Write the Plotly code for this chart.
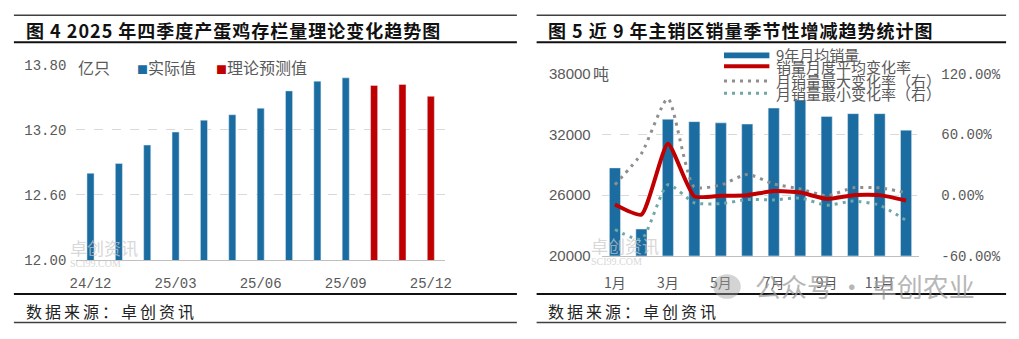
import plotly.graph_objects as go

# ---------------- data: left chart ----------------
left_months = ['24/12', '25/01', '25/02', '25/03', '25/04', '25/05', '25/06',
               '25/07', '25/08', '25/09', '25/10', '25/11', '25/12']
actual_stock = [12.80, 12.89, 13.06, 13.18, 13.29, 13.34, 13.40,
                13.56, 13.65, 13.68, None, None, None]
forecast_stock = [None, None, None, None, None, None, None,
                  None, None, None, 13.61, 13.62, 13.51]
left_xticks = ['24/12', '25/03', '25/06', '25/09', '25/12']
left_yticks = [12.00, 12.60, 13.20, 13.80]
left_yticktext = ['12.00', '12.60', '13.20', '13.80']

# ---------------- data: right chart ----------------
right_months = ['1月', '2月', '3月', '4月', '5月', '6月',
                '7月', '8月', '9月', '10月', '11月', '12月']
avg_sales = [28690, 22650, 33500, 33260, 33140, 33020,
             34600, 35400, 33770, 34050, 34050, 32420]
avg_rate = [-9.3, -19.3, 50.8, -1.2, -0.6, 0.0, 4.0, 2.5, -3.7, 0.0, 0.0, -5.3]
max_rate = [10.3, 41.0, 95.3, 8.1, 10.0, 20.5, 11.0, 6.2, -0.6, 7.2, 7.2, 2.5]
min_rate = [-34.0, -43.5, 10.3, -7.5, -8.4, -4.4, -4.7, -2.8, -10.0, -5.9, -10.0, -25.0]
right_xticks = ['1月', '3月', '5月', '7月', '9月', '11月']
right_yticks = [20000, 26000, 32000, 38000]
right_yticktext = ['20000', '26000', '32000', '38000']
right_y2ticks = [-60, 0, 60, 120]
right_y2ticktext = ['-60.00%', '0.00%', '60.00%', '120.00%']

# ---------------- styles ----------------
W, H = 1019, 339
BLUE = '#1B6CA0'
RED = '#C00000'
GRAY_DOT = '#8E8E8E'
TEAL_DOT = '#6FA6A8'
TXT = '#595959'
CJK = 'Noto Sans CJK SC'
MONO = 'Liberation Mono'


def px(x):
    return x / W


def py(y):
    return 1 - y / H


fig = go.Figure()

# left chart bars
fig.add_trace(go.Bar(x=left_months, y=actual_stock, name='实际值', marker_color=BLUE,
                     width=0.25, xaxis='x', yaxis='y', showlegend=False))
fig.add_trace(go.Bar(x=left_months, y=forecast_stock, name='理论预测值', marker_color=RED,
                     width=0.25, xaxis='x', yaxis='y', showlegend=False))

# right chart
fig.add_trace(go.Bar(x=right_months, y=avg_sales, name='9年月均销量', marker_color=BLUE,
                     width=0.42, xaxis='x2', yaxis='y2', showlegend=False))
fig.add_trace(go.Scatter(x=right_months, y=max_rate, name='月销量最大变化率（右）', mode='lines',
                         line=dict(color=GRAY_DOT, width=3, dash='3px,5px', shape='spline', smoothing=0.6),
                         xaxis='x2', yaxis='y3', showlegend=False))
fig.add_trace(go.Scatter(x=right_months, y=min_rate, name='月销量最小变化率（右）', mode='lines',
                         line=dict(color=TEAL_DOT, width=3, dash='3px,5px', shape='spline', smoothing=0.6),
                         xaxis='x2', yaxis='y3', showlegend=False))
fig.add_trace(go.Scatter(x=right_months, y=avg_rate, name='销量月度平均变化率', mode='lines',
                         line=dict(color=RED, width=4, shape='spline', smoothing=0.5),
                         xaxis='x2', yaxis='y3', showlegend=False))

tickfont_mono = dict(family=MONO, size=14, color=TXT)

fig.update_layout(
    width=W, height=H, autosize=False,
    margin=dict(l=0, r=0, t=0, b=0),
    paper_bgcolor='white', plot_bgcolor='white',
    barmode='overlay',
    xaxis=dict(domain=[px(70.3), px(444.1)], type='category', tickmode='array',
               tickvals=left_xticks, ticktext=left_xticks, tickfont=tickfont_mono,
               showline=True, linecolor='#BFBFBF', linewidth=1, ticks='',
               showgrid=False, zeroline=False, ticklabelstandoff=10, fixedrange=True),
    yaxis=dict(domain=[py(265), py(59)], range=[12.0, 13.8], tickmode='array',
               tickvals=left_yticks, ticktext=left_yticktext, tickfont=tickfont_mono,
               showgrid=True, gridcolor='#D9D9D9', griddash='dash', gridwidth=1,
               showline=False, zeroline=False, ticks='', ticklabelstandoff=9),
    xaxis2=dict(domain=[px(603), px(925)], type='category', tickmode='array',
                tickvals=right_xticks, ticktext=right_xticks,
                tickfont=dict(family=CJK, size=14, color=TXT),
                showline=True, linecolor='#BFBFBF', linewidth=1, ticks='',
                showgrid=False, zeroline=False, ticklabelstandoff=14, anchor='y2'),
    yaxis2=dict(domain=[py(260.7), py(68.3)], range=[20000, 38000], tickmode='array',
                tickvals=right_yticks, ticktext=right_yticktext,
                tickfont=dict(family='Liberation Sans', size=15, color=TXT),
                showgrid=True, gridcolor='#D9D9D9', griddash='dash', gridwidth=1,
                showline=False, zeroline=False, ticks='', ticklabelstandoff=10, anchor='x2'),
    yaxis3=dict(domain=[py(260.7), py(68.3)], range=[-60, 120], tickmode='array',
                tickvals=right_y2ticks, ticktext=right_y2ticktext, tickfont=tickfont_mono,
                overlaying='y2', side='right', anchor='x2', showgrid=False,
                showline=False, zeroline=False, ticks='', ticklabelstandoff=21),
)

shapes = []
# rules
for x0, x1 in [(7, 517), (537, 1013)]:
    shapes.append(dict(type='line', xref='paper', yref='paper', x0=px(x0), x1=px(x1),
                       y0=py(6.5), y1=py(6.5), line=dict(color='#404040', width=1.5)))
    shapes.append(dict(type='line', xref='paper', yref='paper', x0=px(x0), x1=px(x1),
                       y0=py(35), y1=py(35), line=dict(color='#111111', width=2)))
    shapes.append(dict(type='line', xref='paper', yref='paper', x0=px(x0), x1=px(x1),
                       y0=py(301), y1=py(301), line=dict(color='#111111', width=2)))
    shapes.append(dict(type='line', xref='paper', yref='paper', x0=px(x0), x1=px(x1),
                       y0=py(331), y1=py(331), line=dict(color='#404040', width=1.5)))

# right legend swatches
shapes.append(dict(type='rect', xref='paper', yref='paper', x0=px(727), x1=px(773),
                   y0=py(52), y1=py(46), fillcolor=BLUE, line=dict(width=0)))
shapes.append(dict(type='line', xref='paper', yref='paper', x0=px(727), x1=px(773),
                   y0=py(60.5), y1=py(60.5), line=dict(color=RED, width=4)))
shapes.append(dict(type='line', xref='paper', yref='paper', x0=px(727), x1=px(773),
                   y0=py(76), y1=py(76), line=dict(color=GRAY_DOT, width=3, dash='3px,5px')))
shapes.append(dict(type='line', xref='paper', yref='paper', x0=px(727), x1=px(773),
                   y0=py(89), y1=py(89), line=dict(color=TEAL_DOT, width=3, dash='3px,5px')))
# wechat icon approximation (watermark)
shapes.append(dict(type='circle', xref='paper', yref='paper', x0=px(716), x1=px(744),
                   y0=py(306), y1=py(280), fillcolor='rgba(160,160,160,0.45)', line=dict(width=0)))

fig.update_layout(shapes=shapes)

ann = []


def add_text(x, y, text, size, color=TXT, family=CJK, xanchor='left', yanchor='middle', opacity=1):
    ann.append(dict(xref='paper', yref='paper', x=px(x), y=py(y), text=text, showarrow=False,
                    xanchor=xanchor, yanchor=yanchor, opacity=opacity,
                    font=dict(family=family, size=size, color=color)))


# titles
add_text(17, 22, '<span style="letter-spacing:1px"><b>图 4 2025 年四季度产蛋鸡存栏量理论变化趋势图</b></span>',
         18, color='#111111')
add_text(547, 22, '<span style="letter-spacing:1px"><b>图 5 近 9 年主销区销量季节性增减趋势统计图</b></span>',
         18, color='#111111')
# sources
add_text(17, 319, '<span style="letter-spacing:3px">数据来源：卓创资讯</span>', 16, color='#222222')
add_text(547, 319, '<span style="letter-spacing:3px">数据来源：卓创资讯</span>', 16, color='#222222')

# left unit + legend
add_text(70, 61, '亿只', 16)
add_text(130, 61, f'<span style="color:{BLUE};font-size:11px">■</span>实际值', 16)
add_text(210, 61, f'<span style="color:{RED};font-size:11px">■</span>理论预测值', 16)

# right unit
add_text(592, 68, '吨', 16)
# right legend texts
add_text(778, 48, '9年月均销量', 15)
add_text(778, 61, '销量月度平均变化率', 15)
add_text(778, 75, '月销量最大变化率（右）', 15)
add_text(778, 89, '月销量最小变化率（右）', 15)

# watermarks
add_text(62, 252, '卓创资讯', 17, color='#C8C8C8', opacity=0.7)
add_text(62, 269, 'SCI99.COM', 10, color='#C8C8C8', family='Liberation Serif', opacity=0.7)
add_text(590, 250, '卓创资讯', 17, color='#C8C8C8', opacity=0.7)
add_text(590, 267, 'SCI99.COM', 10, color='#C8C8C8', family='Liberation Serif', opacity=0.7)
add_text(756, 292, '公众号 · 卓创农业', 26, color='#A0A0A0', opacity=0.75)

fig.update_layout(annotations=ann)

fig.write_html('out.html', config={'displayModeBar': False})
